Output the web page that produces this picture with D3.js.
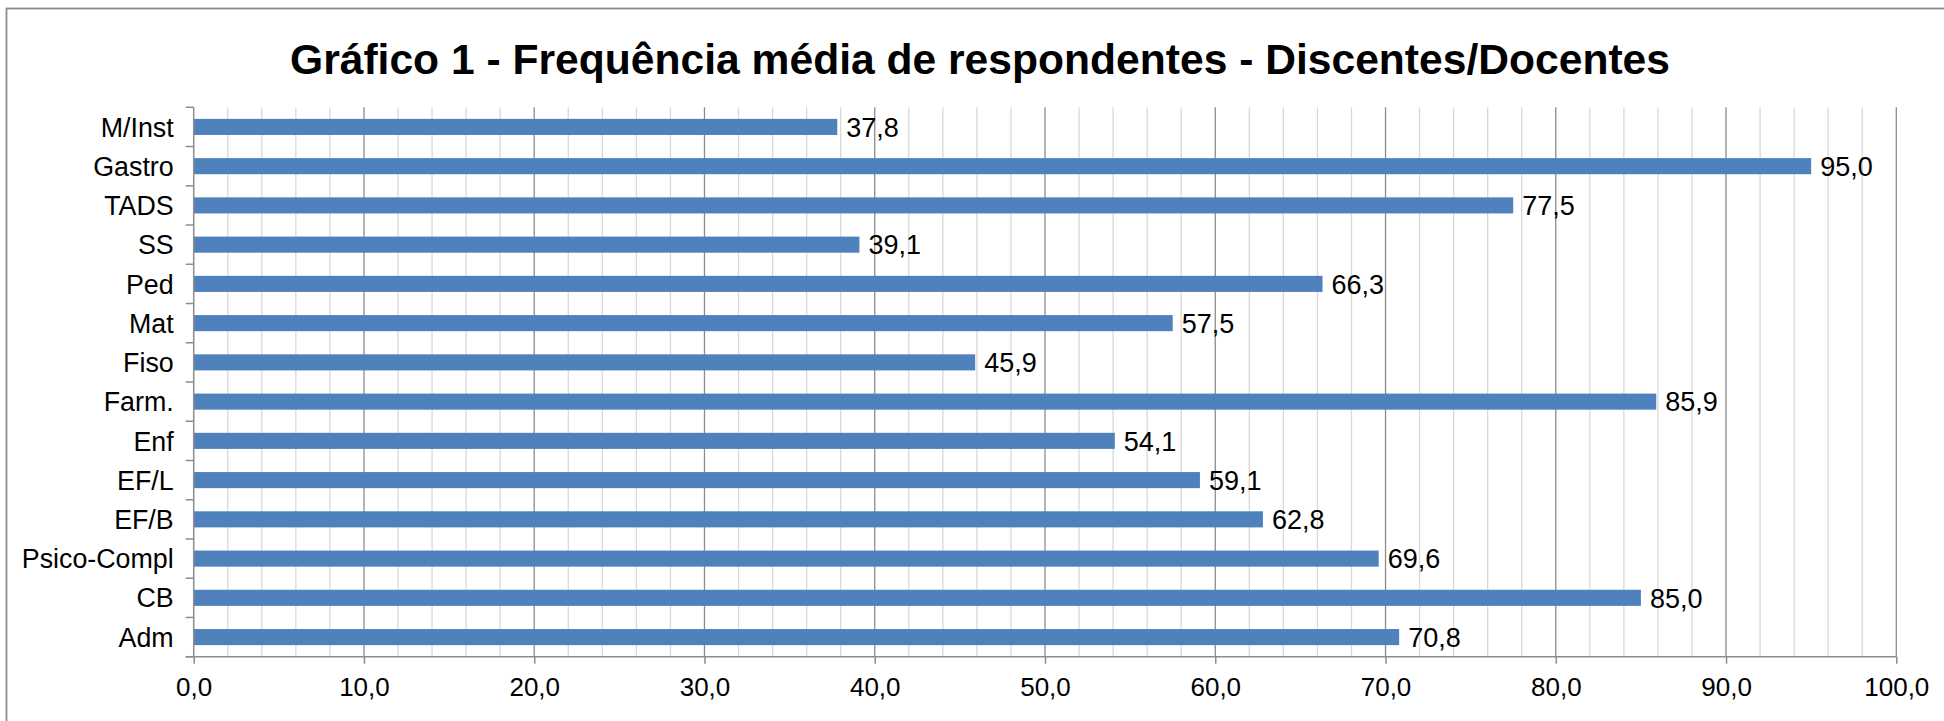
<!DOCTYPE html>
<html>
<head>
<meta charset="utf-8">
<script src="https://cdn.jsdelivr.net/npm/d3@7"></script>
<style>
  html, body { margin: 0; padding: 0; background: #fff; }
  svg { display: block; font-family: Arial, "Liberation Sans", sans-serif; }
</style>
</head>
<body>
<svg id="chart" width="1944" height="721"></svg>
<script>
const title = "Gráfico 1 - Frequência média de respondentes - Discentes/Docentes";
const categories = ["M/Inst", "Gastro", "TADS", "SS", "Ped", "Mat", "Fiso", "Farm.", "Enf", "EF/L", "EF/B", "Psico-Compl", "CB", "Adm"];
const values = [37.8, 95.0, 77.5, 39.1, 66.3, 57.5, 45.9, 85.9, 54.1, 59.1, 62.8, 69.6, 85.0, 70.8];
const majorTicks = [0, 10, 20, 30, 40, 50, 60, 70, 80, 90, 100];
const minorTicks = [2, 4, 6, 8, 12, 14, 16, 18, 22, 24, 26, 28, 32, 34, 36, 38, 42, 44, 46, 48, 52, 54, 56, 58, 62, 64, 66, 68, 72, 74, 76, 78, 82, 84, 86, 88, 92, 94, 96, 98];

const data = categories.map((c, i) => ({ cat: c, val: values[i] }));
const fmt = v => d3.format(".1f")(v).replace(".", ",");

const svg = d3.select("#chart");
const W = 1944, H = 721;
const plot = { left: 193.7, right: 1896.3, top: 107.3, bottom: 656.7 };

// chart border
svg.append("rect")
  .attr("x", 6.5).attr("y", 8.5)
  .attr("width", W + 20).attr("height", H + 20)
  .attr("fill", "none").attr("stroke", "#8c8c8c").attr("stroke-width", 1.8);

const x = d3.scaleLinear().domain([0, 100]).range([plot.left, plot.right]);
const y = d3.scaleBand().domain(categories).range([plot.top, plot.bottom])
  .paddingInner(0.59).paddingOuter(0.295);

// minor gridlines
svg.append("g").selectAll("line").data(minorTicks).join("line")
  .attr("x1", d => x(d)).attr("x2", d => x(d))
  .attr("y1", plot.top).attr("y2", plot.bottom)
  .attr("stroke", "#d9d9d9").attr("stroke-width", 1.3);

// major gridlines
svg.append("g").selectAll("line").data(majorTicks.slice(1)).join("line")
  .attr("x1", d => x(d)).attr("x2", d => x(d))
  .attr("y1", plot.top).attr("y2", plot.bottom)
  .attr("stroke", "#8c8c8c").attr("stroke-width", 1.3);

// bars
svg.append("g").selectAll("rect").data(data).join("rect")
  .attr("x", x(0)).attr("y", d => y(d.cat))
  .attr("width", d => x(d.val) - x(0)).attr("height", y.bandwidth())
  .attr("fill", "#4f81bd");

// value labels
svg.append("g").selectAll("text").data(data).join("text")
  .attr("x", d => x(d.val) + 9)
  .attr("y", d => y(d.cat) + y.bandwidth() / 2)
  .attr("dy", "0.36em")
  .attr("font-size", 27).attr("fill", "#000")
  .text(d => fmt(d.val));

// x axis
const xAxis = d3.axisBottom(x).tickValues(majorTicks).tickFormat(fmt).tickSize(7).tickPadding(14);
const gx = svg.append("g").attr("transform", `translate(0,${plot.bottom})`).call(xAxis);
gx.select(".domain").attr("stroke", "#8c8c8c").attr("stroke-width", 1.5)
  .attr("d", `M${plot.left - 8},0H${plot.right}`);
gx.selectAll(".tick line").attr("stroke", "#8c8c8c").attr("stroke-width", 1.5);
gx.selectAll(".tick text").attr("font-size", 26).attr("fill", "#000")
  .attr("font-family", "Arial, 'Liberation Sans', sans-serif");

// y axis: ticks at category boundaries
const bounds = d3.range(categories.length + 1).map(i => plot.top + i * y.step());
const gy = svg.append("g");
gy.append("line").attr("x1", plot.left).attr("x2", plot.left)
  .attr("y1", plot.top).attr("y2", plot.bottom)
  .attr("stroke", "#8c8c8c").attr("stroke-width", 1.5);
gy.selectAll("line.t").data(bounds).join("line").attr("class", "t")
  .attr("x1", plot.left - 8).attr("x2", plot.left)
  .attr("y1", d => d).attr("y2", d => d)
  .attr("stroke", "#8c8c8c").attr("stroke-width", 1.5);
gy.selectAll("text").data(categories).join("text")
  .attr("x", plot.left - 20)
  .attr("y", d => y(d) + y.bandwidth() / 2)
  .attr("dy", "0.36em").attr("text-anchor", "end")
  .attr("font-size", 26.8).attr("fill", "#000")
  .text(d => d);

// title
svg.append("text")
  .attr("x", 980).attr("y", 74)
  .attr("text-anchor", "middle")
  .attr("font-size", 42.6).attr("font-weight", "bold").attr("fill", "#000")
  .text(title);
</script>
</body>
</html>
